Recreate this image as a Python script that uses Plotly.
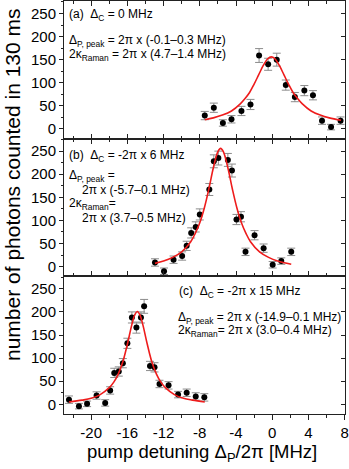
import plotly.graph_objects as go
from plotly.subplots import make_subplots

# (a) Delta_C = 0 MHz
a_det = [-7.45, -6.45, -5.45, -4.5, -3.4, -2.4, -1.45, -0.45, 0.5, 1.5, 2.5, 3.55, 4.5, 5.5, 6.5, 7.55]
a_cnt = [29, 46, 13, 21, 39, 53, 159, 140, 150, 95, 69, 83, 73, 18, 4, 18]
a_err = [9, 10, 7, 8, 10, 11, 15, 13, 14, 11, 10, 11, 10, 8, 6, 8]
a_fit_x = [-7.45, -6.5, -5.5, -4.5, -3.5, -3, -2.5, -2, -1.5, -1, -0.5, -0.1, 0.3, 0.8, 1.3, 1.8, 2.3, 2.8, 3.3, 4.3, 5.3, 6.3, 7.6]
a_fit_y = [20, 24, 30, 39, 55, 66, 79, 97, 117, 137, 152, 156, 152, 137, 117, 97, 79, 66, 55, 39, 30, 24, 19]

# (b) Delta_C = -2pi x 6 MHz
b_det = [-12.95, -11.95, -10.9, -9.95, -9.45, -8.95, -8.45, -8.0, -6.95, -6.45, -5.95, -4.9, -4.45, -3.95, -3.45, -2.95, -1.95, -0.95, 0.05, 1.0, 2.1]
b_cnt = [9, -10, 15, 23, 45, 73, 86, 113, 167, 228, 235, 231, 208, 102, 108, 32, 68, 40, 4, 12, 32]
b_err = [8, 7, 8, 9, 10, 11, 11, 12, 13, 14, 15, 14, 14, 11, 11, 8, 10, 9, 7, 7, 8]
b_fit_x = [-12.95, -12, -11, -10, -9, -8.5, -8, -7.5, -7, -6.5, -6, -5.7, -5.4, -4.9, -4.4, -3.9, -3.4, -2.9, -2.4, -1.4, -0.4, 0.6, 2.1]
b_fit_y = [7, 12, 20, 32, 54, 72, 95, 127, 168, 214, 249, 256, 249, 214, 168, 127, 95, 72, 54, 32, 20, 12, 5]

# (c) Delta_C = -2pi x 15 MHz
c_det = [-22.45, -21.35, -20.45, -19.4, -18.45, -17.9, -17.45, -16.95, -16.5, -16.0, -15.5, -15.0, -14.5, -14.15, -13.5, -13.0, -12.45, -11.45, -10.4, -9.45, -8.45, -7.5]
c_cnt = [10, -4, 1, 19, 3, 30, 68, 71, 89, 132, 188, 166, 188, 212, 83, 80, 44, 41, 21, 25, 17, 15]
c_err = [8, 6, 6, 8, 7, 8, 10, 10, 10, 11, 12, 12, 12, 15, 10, 10, 8, 8, 7, 8, 8, 8]
c_fit_x = [-22.45, -21, -20, -19, -18, -17.5, -17, -16.5, -16, -15.5, -15.2, -14.9, -14.6, -14.3, -13.8, -13.3, -12.8, -12.3, -11.8, -10.8, -9.8, -8.8, -7.45]
c_fit_y = [5, 9, 13, 21, 36, 48, 66, 92, 130, 173, 193, 201, 193, 173, 130, 92, 66, 48, 36, 21, 13, 9, 5]

x_ticks = [-20, -16, -12, -8, -4, 0, 4, 8]
x_labels = ["-20", "-16", "-12", "-8", "-4", "0", "4", "8"]
y_ticks = [0, 50, 100, 150, 200, 250]

FONT = "Liberation Sans, Arial, sans-serif"
RED = "#ee1c1c"

fig = make_subplots(rows=3, cols=1, shared_xaxes=True, vertical_spacing=0)

panels = [(a_det, a_cnt, a_err, a_fit_x, a_fit_y),
          (b_det, b_cnt, b_err, b_fit_x, b_fit_y),
          (c_det, c_cnt, c_err, c_fit_x, c_fit_y)]
for i, (xd, yd, ed, fx, fy) in enumerate(panels, start=1):
    fig.add_trace(go.Scatter(
        x=xd, y=yd, mode="markers",
        marker=dict(color="black", size=6),
        error_y=dict(type="data", array=ed, color="#8c8c8c", thickness=1, width=4),
        showlegend=False), row=i, col=1)
    fig.add_trace(go.Scatter(
        x=fx, y=fy, mode="lines", line=dict(color=RED, width=1.6, shape="spline", smoothing=1.0),
        showlegend=False), row=i, col=1)
    # empty trace so the right-hand tick axis is drawn
    fig.add_trace(go.Scatter(x=[], y=[], xaxis="x" if i == 1 else f"x{i}",
                             yaxis=f"y{i + 3}", showlegend=False, hoverinfo="skip"))

yrange = [-21, 277]
for i in range(1, 4):
    fig.update_yaxes(range=yrange, tickvals=y_ticks, ticks="outside", ticklen=4,
                     showgrid=False, zeroline=False, showline=True, linecolor="#222",
                     linewidth=1, tickcolor="#222",
                     minor=dict(tick0=0, dtick=25, ticks="outside", ticklen=2, tickcolor="#222"),
                     tickfont=dict(size=15, color="black", family=FONT),
                     row=i, col=1)
    last = i == 3
    fig.update_xaxes(range=[-23.0, 8.04], tickvals=x_ticks, ticktext=x_labels,
                     ticks="outside" if last else "inside", ticklen=5,
                     mirror=True if last else "ticks",
                     showticklabels=last, showgrid=False, zeroline=False,
                     showline=True, linecolor="#222", linewidth=1, tickcolor="#222",
                     minor=dict(tick0=0, dtick=2, ticks="outside" if last else "inside",
                                ticklen=3, tickcolor="#222"),
                     tickfont=dict(size=15, color="black", family=FONT),
                     row=i, col=1)

# right-hand axes with inward ticks
for i in range(1, 4):
    fig.layout[f"yaxis{i + 3}"] = dict(
        overlaying="y" if i == 1 else f"y{i}", anchor="x" if i == 1 else f"x{i}",
        side="right", range=yrange, tickvals=y_ticks, ticks="inside", ticklen=4,
        tickcolor="#222", showticklabels=False, showgrid=False, zeroline=False,
        showline=True, linecolor="#222", linewidth=1)


def px(xp, yp):
    return (xp - 64) / 281, 1 - (yp - 1) / 413


notes = [
    (67, 15, "(a)  Δ<sub>C</sub> = 0 MHz"),
    (67, 41, "Δ<sub>P, peak</sub> = 2π x (-0.1–0.3 MHz)"),
    (67, 55, "2κ<sub>Raman</sub> = 2π x (4.7–1.4 MHz)"),
    (67, 156, "(b)  Δ<sub>C</sub> = -2π x 6 MHz"),
    (67, 176, "Δ<sub>P, peak</sub> ="),
    (80, 190, "2π x (-5.7–0.1 MHz)"),
    (67, 204, "2κ<sub>Raman</sub>="),
    (80, 218, "2π x (3.7–0.5 MHz)"),
    (177, 292, "(c)  Δ<sub>C</sub> = -2π x 15 MHz"),
    (176, 318, "Δ<sub>P, peak</sub> = 2π x (-14.9–0.1 MHz)"),
    (176, 331, "2κ<sub>Raman</sub>= 2π x (3.0–0.4 MHz)"),
]
for xp, yp, t in notes:
    ax, ay = px(xp, yp)
    fig.add_annotation(x=ax, y=ay, xref="paper", yref="paper", text=t, showarrow=False,
                       xanchor="left", yanchor="middle",
                       font=dict(size=12, color="black", family=FONT))

tx, ty = px(12, 185)
fig.add_annotation(x=tx, y=ty, xref="paper", yref="paper", textangle=-90,
                   text="number of photons counted in 130 ms", showarrow=False,
                   xanchor="center", yanchor="middle",
                   font=dict(size=21, color="black", family=FONT))
tx, ty = px(202, 453)
fig.add_annotation(x=tx, y=ty, xref="paper", yref="paper",
                   text="pump detuning Δ<sub>P</sub>/2π [MHz]", showarrow=False,
                   xanchor="center", yanchor="middle",
                   font=dict(size=18.5, color="black", family=FONT))

fig.update_layout(width=349, height=469, margin=dict(l=64, r=4, t=1, b=55),
                  plot_bgcolor="white", paper_bgcolor="white",
                  font=dict(family=FONT, color="black"))
# page body has a default 8px margin; drop it so the figure sits at the window corner
fig.write_html("out.html", config={"displayModeBar": False},
               post_script="document.body.style.margin='0';")
